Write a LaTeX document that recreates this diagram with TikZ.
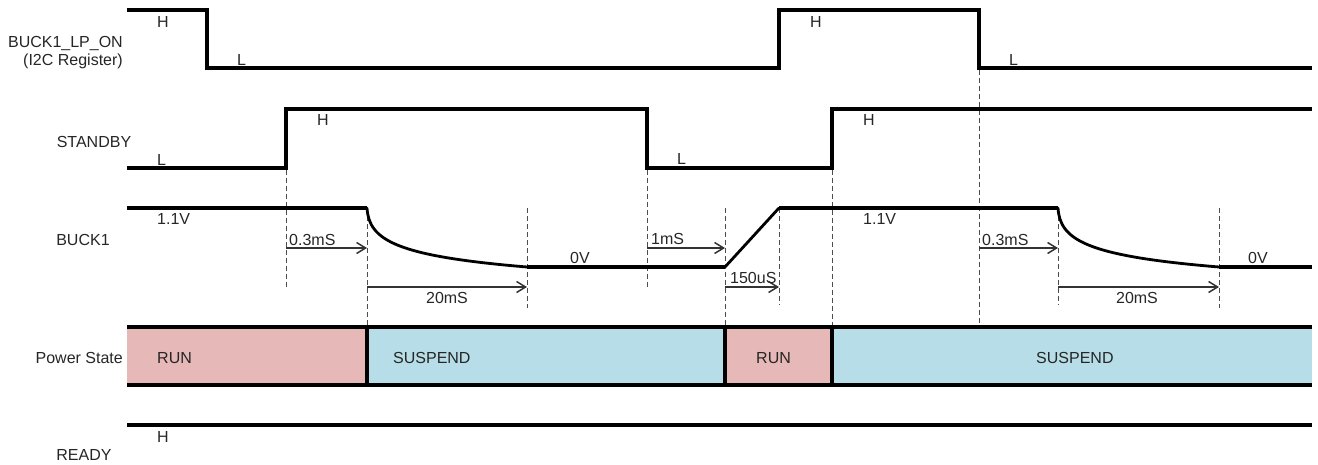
\documentclass[tikz,border=0pt]{standalone}
\usepackage{fontspec}
\setmainfont{Liberation Sans}
\usetikzlibrary{arrows.meta}
\definecolor{runpink}{HTML}{E6B8B7}
\definecolor{suspblue}{HTML}{B7DEE8}
\tikzset{
wave/.style = {line width = 4pt, line join = miter},
edge wave/.style = {line width = 2.8pt, line cap = round},
guide/.style = {draw = black!70, line width = 1pt, dash pattern = on 5pt off 3pt},
span/.style = {draw = black!80, line width = 1.5pt, -{Straight Barb[length = 9pt, width = 11pt]}},
lbl/.style = {inner sep = 0pt, anchor = base west, text = black!85},
sig name/.style = {inner sep = 0pt, anchor = base east, text = black!85},
}

\begin{document}
\begin{tikzpicture}[x = 1pt, y = -1pt, font = \fontsize{16}{19}\selectfont]
      \useasboundingbox (0, 0) rectangle (1318, 464);
      % signal names
      \node[sig name] (lpname) at (123, 47) {BUCK1\_LP\_ON};
      \node[sig name] (lpreg) at (123, 65) {(I2C Register)};
      \node[sig name, anchor = base] (sbname) at (94, 147) {STANDBY};
      \node[sig name, anchor = base] (bkname) at (83, 245) {BUCK1};
      \node[sig name] (psname) at (123, 363) {Power State};
      \node[sig name, anchor = base] (rdname) at (84, 460) {READY};
      % guides
      \foreach \x/\ya/\yb in {286/170/287, 367/208/325, 527/208/308, 647/170/287, 725/208/325,
                              779/208/305, 832/170/325, 979/70/323, 1058/208/305, 1219/208/308}
        \draw[guide] (\x, \ya) -- (\x, \yb);
      % power state bar
      \fill[runpink] (127, 327) rectangle (367, 385);
      \fill[suspblue] (367, 327) rectangle (725, 385);
      \fill[runpink] (725, 327) rectangle (832, 385);
      \fill[suspblue] (832, 327) rectangle (1312, 385);
      \draw[wave] (127, 327) -- (1312, 327);
      \draw[wave] (127, 385) -- (1312, 385);
      \foreach \x in {367, 725, 832}
        \draw[wave] (\x, 327) -- (\x, 385);
      \node[lbl] (run1) at (157, 363) {RUN};
      \node[lbl] (susp1) at (393, 363) {SUSPEND};
      \node[lbl] (run2) at (756, 363) {RUN};
      \node[lbl] (susp2) at (1036, 363) {SUSPEND};
      % waveforms
      \draw[wave] (127, 10) -- (207, 10) -- (207, 68) -- (779, 68) -- (779, 10) -- (979, 10) -- (979, 68) -- (1312, 68);
      \draw[wave] (127, 168) -- (286, 168) -- (286, 109) -- (647, 109) -- (647, 168) -- (832, 168) -- (832, 109) -- (1312, 109);
      \draw[wave] (127, 208) -- (367, 208);
      \draw[edge wave] (367, 208) .. controls (369, 240) and (395, 256) .. (527, 267);
      \draw[wave] (527, 267) -- (725, 267);
      \draw[edge wave] (725, 267) -- (779, 208);
      \draw[wave] (779, 208) -- (1058, 208);
      \draw[edge wave] (1058, 208) .. controls (1060, 240) and (1086, 256) .. (1219, 267);
      \draw[wave] (1219, 267) -- (1312, 267);
      \draw[wave] (127, 425) -- (1312, 425);
      % levels
      \node[lbl] (lph1) at (157, 27) {H};
      \node[lbl] (lpl1) at (237, 65) {L};
      \node[lbl] (lph2) at (810, 27) {H};
      \node[lbl] (lpl2) at (1009, 65) {L};
      \node[lbl] (sbl1) at (157, 165) {L};
      \node[lbl] (sbh1) at (317, 125) {H};
      \node[lbl] (sbl2) at (677, 164) {L};
      \node[lbl] (sbh2) at (863, 125) {H};
      \node[lbl] (bkv1) at (157, 224) {1.1V};
      \node[lbl] (bkz1) at (570, 263) {0V};
      \node[lbl] (bkv2) at (863, 224) {1.1V};
      \node[lbl] (bkz2) at (1248, 263) {0V};
      \node[lbl] (rdh) at (157, 442) {H};
      % timings
      \coordinate (d1a) at (286, 248); \coordinate (d1b) at (367, 248);
      \coordinate (f1a) at (367, 287); \coordinate (f1b) at (527, 287);
      \coordinate (w1a) at (647, 248); \coordinate (w1b) at (725, 248);
      \coordinate (r1a) at (725, 287); \coordinate (r1b) at (779, 287);
      \coordinate (d2a) at (979, 248); \coordinate (d2b) at (1058, 248);
      \coordinate (f2a) at (1058, 287); \coordinate (f2b) at (1219, 287);
      \draw[span] (d1a) -- (d1b);
      \draw[span] (f1a) -- (f1b);
      \draw[span] (w1a) -- (w1b);
      \draw[span] (r1a) -- (r1b);
      \draw[span] (d2a) -- (d2b);
      \draw[span] (f2a) -- (f2b);
      \node[lbl] (t1) at (289, 245) {0.3mS};
      \node[lbl, anchor = base] (t2) at (447, 303) {20mS};
      \node[lbl] (t3) at (651, 244) {1mS};
      \node[lbl] (t4) at (730, 283) {150uS};
      \node[lbl] (t5) at (982, 245) {0.3mS};
      \node[lbl, anchor = base] (t6) at (1137, 303) {20mS};
    \end{tikzpicture}
\end{document}
